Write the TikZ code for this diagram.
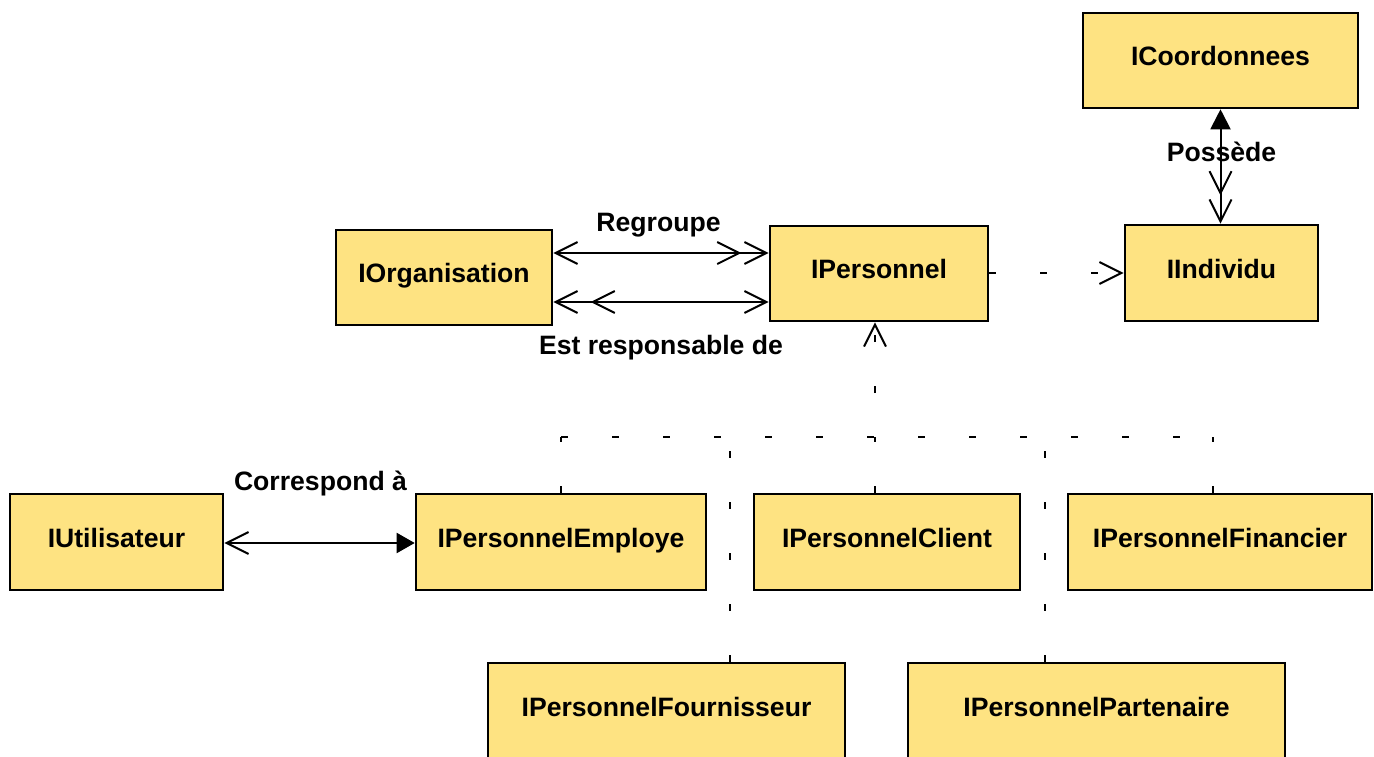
\documentclass[tikz,border=0pt]{standalone}
\usepackage{fontspec}
\setmainfont{Liberation Sans}
\usetikzlibrary{arrows.meta}
\definecolor{boxfill}{RGB}{254,227,130}
\begin{document}
\begin{tikzpicture}[x=1pt,y=-1pt,
  cls/.style={draw=black, line width=2.6pt, fill=boxfill,
    font=\fontsize{26.6}{32}\selectfont\bfseries,
    text height=19pt, text depth=9pt, inner sep=0pt},
  lbl/.style={font=\fontsize{26.6}{32}\selectfont\bfseries, inner sep=0pt, anchor=base},
  conn/.style={line width=2pt},
  umldash/.style={line width=2pt, dash pattern=on 7pt off 44pt}]
\useasboundingbox (0,0) rectangle (1374,757);

% classes
\node[cls, minimum width=275pt, minimum height=95pt] (coord) at (1220.5,60.5) {ICoordonnees};
\node[cls, minimum width=216pt, minimum height=95pt] (org) at (444,277.5) {IOrganisation};
\node[cls, minimum width=218pt, minimum height=95pt] (pers) at (879,273.5) {IPersonnel};
\node[cls, minimum width=193pt, minimum height=96pt] (indiv) at (1221.5,273) {IIndividu};
\node[cls, minimum width=213pt, minimum height=96pt] (util) at (116.5,542) {IUtilisateur};
\node[cls, minimum width=290pt, minimum height=96pt] (empl) at (561,542) {IPersonnelEmploye};
\node[cls, minimum width=266pt, minimum height=96pt] (client) at (887,542) {IPersonnelClient};
\node[cls, minimum width=304pt, minimum height=96pt] (fin) at (1220,542) {IPersonnelFinancier};
\node[cls, minimum width=357pt, minimum height=96pt] (four) at (666.5,711) {IPersonnelFournisseur};
\node[cls, minimum width=377pt, minimum height=96pt] (part) at (1096.5,711) {IPersonnelPartenaire};

% labels
\node[lbl] (lregroupe) at (658.5,231) {Regroupe};
\node[lbl] (lresp) at (661,354) {Est responsable de};
\node[lbl] (lposs) at (1221.5,161) {Possède};
\node[lbl] (lcorr) at (320.5,490) {Correspond à};

% helper coordinates
\coordinate (rg) at (660,253);
\coordinate (rs) at (660,302);
\coordinate (uc) at (320,543);
\coordinate (pi) at (1050,273);
\coordinate (j) at (875,437);
\coordinate (je) at (561,437);
\coordinate (jf) at (730,437);
\coordinate (jp) at (1045,437);
\coordinate (jn) at (1213,437);

% associations
\draw[conn, {Straight Barb[length=22pt,width=22pt,sep=0pt]}-{Straight Barb[length=22pt,width=22pt,sep=2pt] Straight Barb[length=22pt,width=22pt,sep=0pt]}]
  (org.east |- rg) -- (pers.west |- rg);
\draw[conn, {Straight Barb[length=22pt,width=22pt,sep=0pt] Straight Barb[length=22pt,width=22pt,sep=12pt]}-{Straight Barb[length=22pt,width=22pt,sep=0pt]}]
  (org.east |- rs) -- (pers.west |- rs);
\draw[conn, {Triangle[length=20pt,width=20pt,sep=0pt]}-{Straight Barb[length=22pt,width=22pt,sep=3pt] Straight Barb[length=22pt,width=22pt,sep=0pt]}]
  (coord.south) -- (coord.south |- indiv.north);
\draw[conn, {Straight Barb[length=22pt,width=22pt,sep=0pt]}-{Triangle[length=18pt,width=20pt,sep=0pt]}]
  (util.east |- uc) -- (empl.west |- uc);

% dependency
\draw[umldash, -{Straight Barb[length=22pt,width=22pt,sep=0pt]}] (pers.east |- pi) -- (indiv.west |- pi);

% realization tree
\draw[umldash, dash phase=7pt, -{Straight Barb[length=22pt,width=22pt,sep=0pt]}] (j) -- (j |- pers.south);
\draw[umldash] (je) -- (jn);
\draw[umldash] (empl.north) -- (je);
\draw[umldash] (four.north -| jf) -- (jf);
\draw[umldash] (client.north -| j) -- (j);
\draw[umldash] (part.north -| jp) -- (jp);
\draw[umldash] (fin.north -| jn) -- (jn);
\end{tikzpicture}
\end{document}
